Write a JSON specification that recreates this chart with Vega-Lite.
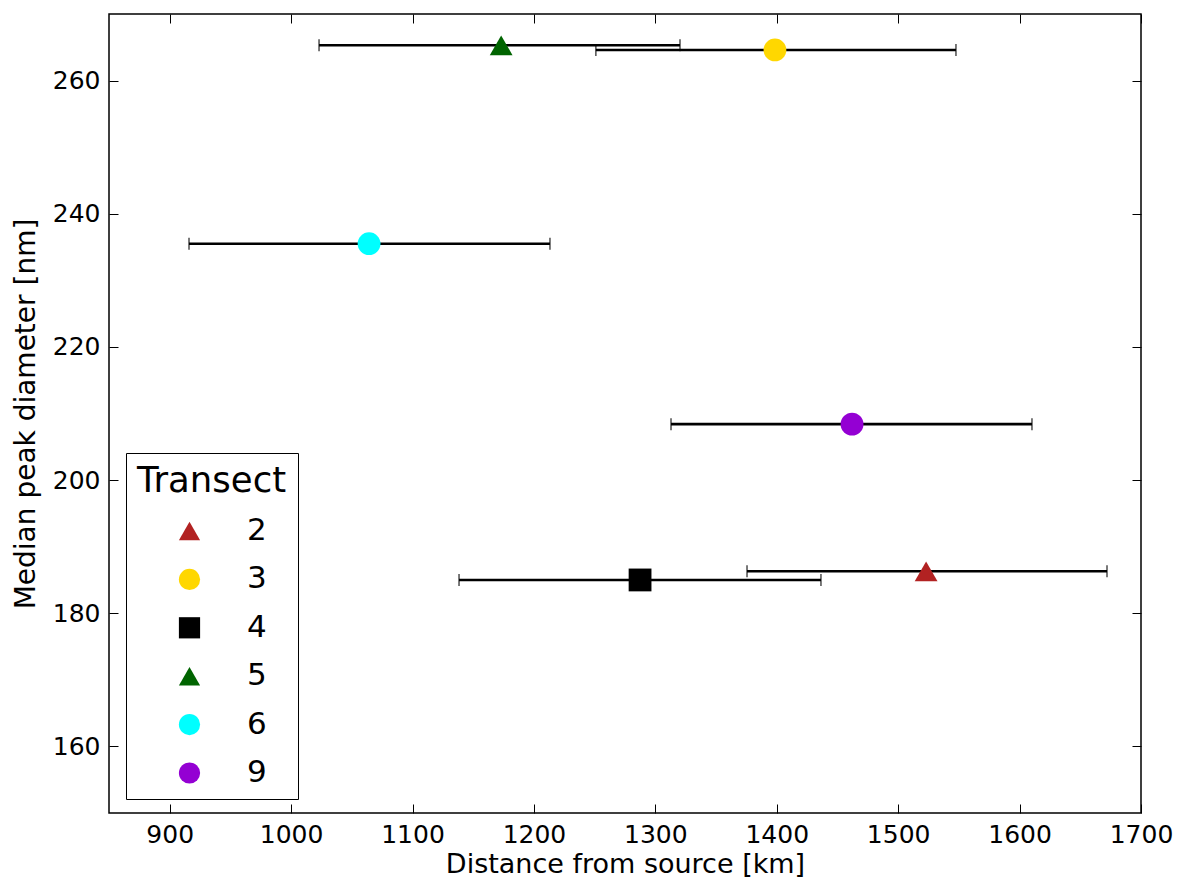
{
  "$schema": "https://vega.github.io/schema/vega-lite/v6.json",
  "width": 1032,
  "height": 799,
  "autosize": {"type": "none"},
  "padding": {"left": 109, "top": 14, "right": 36, "bottom": 65},
  "background": "white",
  "config": {
    "font": "DejaVu Sans",
    "view": {"stroke": "black", "strokeWidth": 1.5},
    "axis": {"grid": false, "domain": false, "tickColor": "black", "tickWidth": 1, "labelColor": "black", "titleColor": "black", "labelFont": "DejaVu Sans", "titleFont": "DejaVu Sans", "titleFontWeight": "normal", "labelFlush": false}
  },
  "data": {
    "values": [
      {"Transect": "2", "distance": 1523, "lo": 1375.5, "hi": 1672, "diameter": 186.3},
      {"Transect": "3", "distance": 1398.5, "lo": 1251, "hi": 1547.6, "diameter": 264.6},
      {"Transect": "4", "distance": 1287.4, "lo": 1138.3, "hi": 1436.4, "diameter": 185.0},
      {"Transect": "5", "distance": 1173, "lo": 1023, "hi": 1320.3, "diameter": 265.3},
      {"Transect": "6", "distance": 1064.2, "lo": 915.9, "hi": 1213.2, "diameter": 235.5},
      {"Transect": "9", "distance": 1462, "lo": 1312.9, "hi": 1610.2, "diameter": 208.4}
    ]
  },
  "resolve": {"axis": {"x": "independent", "y": "independent"}},
  "layer": [
    {
      "mark": {"type": "rule", "color": "black", "strokeWidth": 2.6},
      "encoding": {
        "x": {"field": "lo", "type": "quantitative",
              "scale": {"domain": [850, 1700], "nice": false, "zero": false},
              "axis": {"orient": "bottom", "title": "Distance from source [km]", "values": [900, 1000, 1100, 1200, 1300, 1400, 1500, 1600, 1700], "tickSize": -9, "labelPadding": 18, "labelFontSize": 25, "titleFontSize": 27, "titlePadding": 4, "format": "d"}},
        "x2": {"field": "hi"},
        "y": {"field": "diameter", "type": "quantitative",
              "scale": {"domain": [150, 270], "nice": false, "zero": false},
              "axis": {"orient": "left", "title": "Median peak diameter [nm]", "values": [160, 180, 200, 220, 240, 260], "tickSize": -9, "labelPadding": 18, "labelFontSize": 25, "titleFontSize": 28, "titlePadding": 12}}
      }
    },
    {
      "mark": {"type": "tick", "orient": "vertical", "color": "black", "size": 12, "thickness": 1.5},
      "encoding": {
        "x": {"field": "lo", "type": "quantitative", "axis": null},
        "y": {"field": "diameter", "type": "quantitative", "axis": null}
      }
    },
    {
      "mark": {"type": "tick", "orient": "vertical", "color": "black", "size": 12, "thickness": 1.5},
      "encoding": {
        "x": {"field": "hi", "type": "quantitative", "axis": null},
        "y": {"field": "diameter", "type": "quantitative", "axis": null}
      }
    },
    {
      "mark": {"type": "point", "filled": true, "opacity": 1, "size": 520, "strokeWidth": 0},
      "encoding": {
        "x": {"field": "distance", "type": "quantitative",
              "axis": {"orient": "top", "title": null, "labels": false, "values": [900, 1000, 1100, 1200, 1300, 1400, 1500, 1600, 1700], "tickSize": -9}},
        "y": {"field": "diameter", "type": "quantitative",
              "axis": {"orient": "right", "title": null, "labels": false, "values": [160, 180, 200, 220, 240, 260], "tickSize": -9}},
        "color": {"field": "Transect", "type": "nominal",
                  "scale": {"domain": ["2", "3", "4", "5", "6", "9"], "range": ["#b22222", "#ffd700", "#000000", "#006400", "#00ffff", "#9400d3"]},
                  "legend": {"title": "Transect", "orient": "none", "legendX": 17, "legendY": 439, "strokeColor": "black", "fillColor": "white", "padding": 11, "titleFontSize": 35.5, "titleFontWeight": "normal", "titleColor": "black", "labelFontSize": 31, "labelColor": "black", "symbolSize": 450, "symbolOffset": 37, "labelOffset": 42, "rowPadding": 16.4, "titlePadding": 16, "symbolStrokeWidth": 0}},
        "shape": {"field": "Transect", "type": "nominal",
                  "scale": {"domain": ["2", "3", "4", "5", "6", "9"], "range": ["triangle-up", "circle", "square", "triangle-up", "circle", "circle"]},
                  "legend": {"title": "Transect", "orient": "none", "legendX": 17, "legendY": 439, "strokeColor": "black", "fillColor": "white", "padding": 11, "titleFontSize": 35.5, "titleFontWeight": "normal", "titleColor": "black", "labelFontSize": 31, "labelColor": "black", "symbolSize": 450, "symbolOffset": 37, "labelOffset": 42, "rowPadding": 16.4, "titlePadding": 16, "symbolStrokeWidth": 0}}
      }
    }
  ]
}
